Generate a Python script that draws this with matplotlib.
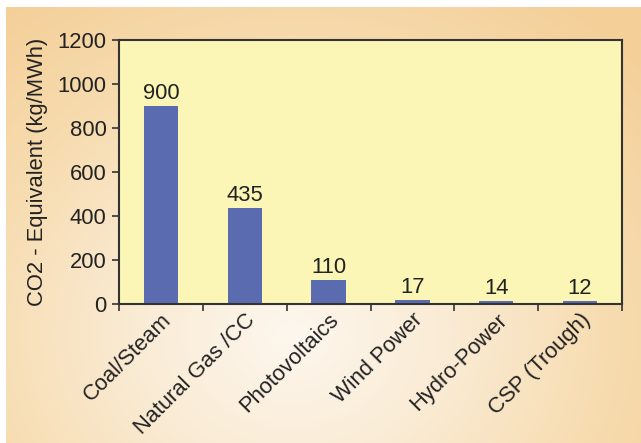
import numpy as np
import matplotlib.pyplot as plt
from matplotlib.colors import LinearSegmentedColormap

plt.rcParams['font.family'] = ['Liberation Sans', 'DejaVu Sans']

# CO2 equivalent emissions per technology
technologies = ['Coal/Steam', 'Natural Gas /CC', 'Photovoltaics',
                'Wind Power', 'Hydro-Power', 'CSP (Trough)']
emissions = [900, 435, 110, 17, 14, 12]
yticks = [0, 200, 400, 600, 800, 1000, 1200]

W, H = 641, 443
fs = 15.8
fig = plt.figure(figsize=(W / 100, H / 100), dpi=100)
fig.patch.set_facecolor('white')

# warm radial gradient behind the chart
bg = fig.add_axes([6 / W, 0, 1 - 6 / W, 1 - 7 / H], zorder=0)
bg.set_axis_off()
yy, xx = np.mgrid[0:1:300j, 0:1:400j]
r = np.sqrt(((xx - 0.45) / 0.75) ** 2 + ((yy - 0.75) / 0.95) ** 2)
cmap = LinearSegmentedColormap.from_list(
    'warm', ['#fdf7ee', '#faebd4', '#f7dcb0', '#f4cf98'])
bg.imshow(np.clip(r, 0, 1), cmap=cmap, aspect='auto', vmin=0, vmax=1,
          extent=[0, 1, 1, 0])

ax = fig.add_axes([119 / W, 1 - 304 / H, (622 - 119) / W, (304 - 40) / H],
                  zorder=1)
ax.set_facecolor('#fbf5b6')

x = np.arange(len(technologies))
ax.bar(x, emissions, width=0.41, color='#5a6bb0', zorder=2)
for xi, v in zip(x, emissions):
    ax.text(xi, v + 10, str(v), ha='center', va='bottom', fontsize=fs,
            color='#222222')

ax.set_xlim(-0.5, len(technologies) - 0.5)
ax.set_ylim(0, 1200)
ax.set_yticks(yticks)
ax.set_yticklabels([str(t) for t in yticks], fontsize=fs, color='#222222')

# ticks sit between the categories, labels under the bars
ax.set_xticks(np.arange(len(technologies) + 1) - 0.5)
ax.set_xticklabels([])
ax.set_xticks(x, minor=True)
ax.set_xticklabels(technologies, minor=True, rotation=45, ha='right',
                   rotation_mode='anchor', fontsize=fs, color='#222222')
ax.tick_params(axis='x', which='minor', length=0, pad=4)
ax.tick_params(axis='x', which='major', length=5, width=1.2,
               direction='out', color='#333333')
ax.tick_params(axis='y', length=5, width=1.2, direction='out',
               color='#333333', pad=4)

for s in ax.spines.values():
    s.set_color('#333333')
    s.set_linewidth(1.5)

ax.set_ylabel('CO2 - Equivalent (kg/MWh)', fontsize=fs, color='#222222',
              labelpad=7)

fig.savefig('out.png', dpi=100)
